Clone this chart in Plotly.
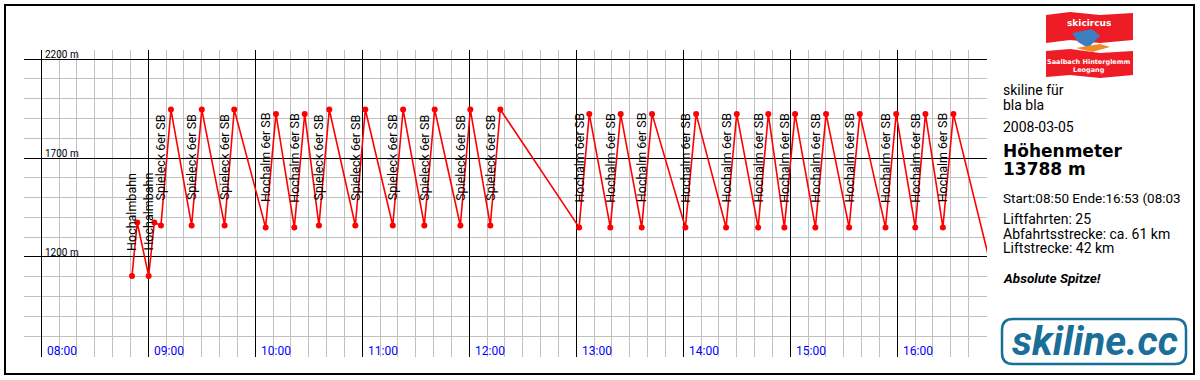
import plotly.graph_objects as go

DAY = "2008-03-05 "

# ---- data ----
times = ["08:50:52", "08:53:48", "09:00:12", "09:03:24", "09:07:06", "09:12:42",
         "09:24:18", "09:30:00", "09:42:48", "09:48:12", "10:05:48", "10:11:36",
         "10:21:54", "10:27:42", "10:35:42", "10:41:30", "10:56:06", "11:01:42",
         "11:17:06", "11:22:54", "11:34:48", "11:40:36", "11:55:00", "12:00:36",
         "12:11:48", "12:17:24", "13:01:36", "13:07:18", "13:19:06", "13:24:54",
         "13:36:42", "13:42:30", "14:01:12", "14:07:12", "14:24:00", "14:30:00",
         "14:42:00", "14:47:42", "14:56:42", "15:02:42", "15:14:06", "15:20:06",
         "15:33:00", "15:39:00", "15:53:24", "15:59:24", "16:10:06", "16:15:48",
         "16:25:36", "16:31:30", "16:53:00"]
altitudes = [1104, 1374, 1104, 1374, 1359, 1945,
             1359, 1945, 1359, 1945, 1349, 1923,
             1349, 1923, 1359, 1945, 1359, 1945,
             1359, 1945, 1359, 1945, 1359, 1945,
             1359, 1945, 1349, 1923, 1349, 1923,
             1349, 1923, 1349, 1923, 1349, 1923,
             1349, 1923, 1349, 1923, 1349, 1923,
             1349, 1923, 1349, 1923, 1349, 1923,
             1349, 1923, 1135]
lift_start_index = list(range(0, 50, 2))
lift_names = (["Hochalmbahn"] * 2 + ["Spieleck 6er SB"] * 3 + ["Hochalm 6er SB"] * 2
              + ["Spieleck 6er SB"] * 6 + ["Hochalm 6er SB"] * 12)
hour_labels = ["08:00", "09:00", "10:00", "11:00", "12:00", "13:00", "14:00", "15:00", "16:00"]
alt_major = [1200, 1700, 2200]
alt_minor = [800, 900, 1000, 1100, 1300, 1400, 1500, 1600, 1800, 1900, 2000, 2100]
info_lines = ["skiline für", "bla bla", "2008-03-05"]
summary_title = ["Höhenmeter", "13788 m"]
stats_lines = ["Liftfahrten: 25", "Abfahrtsstrecke: ca. 61 km", "Liftstrecke: 42 km"]
start_end_line = "Start:08:50 Ende:16:53 (08:03"
slogan = "Absolute Spitze!"

# ---- layout geometry (pixels) ----
W, H = 1200, 380
L, R, T, B = 24, 987, 50, 357


def px(x):
    return (x - L) / (R - L)


def py(y):
    return (B - y) / (B - T)


xs = [DAY + t for t in times]

fig = go.Figure()
fig.add_trace(go.Scatter(
    x=xs, y=altitudes, mode="lines+markers",
    line=dict(color="#ff0000", width=1.6),
    marker=dict(color="#ff0000", size=6),
    hoverinfo="skip", showlegend=False,
))

ann = []
# lift labels (rotated)
for idx, name in zip(lift_start_index, lift_names):
    ann.append(dict(x=xs[idx], y=altitudes[idx], xref="x", yref="y",
                    text=name, textangle=-90, showarrow=False,
                    xanchor="center", yanchor="bottom", yshift=23,
                    font=dict(family="Roboto", size=12.5, color="#000000")))
# hour labels
for h in hour_labels:
    ann.append(dict(x=DAY + h, y=0, xref="x", yref="paper", text=h,
                    showarrow=False, xanchor="left", yanchor="bottom",
                    xshift=4, yshift=-3,
                    font=dict(family="Roboto", size=12, color="#0000ff")))
# altitude labels
for a in alt_major:
    ann.append(dict(x=DAY + "08:00", y=a, xref="x", yref="y", text=f"{a} m",
                    showarrow=False, xanchor="left", yanchor="bottom",
                    xshift=2, yshift=-3,
                    font=dict(family="Roboto", size=10, color="#000000")))

# right panel texts
TX = 1001


def panel_text(text, ycenter, size, bold=False, italic=False, family="Roboto"):
    t = text
    if bold:
        t = f"<b>{t}</b>"
    if italic:
        t = f"<i>{t}</i>"
    ann.append(dict(x=px(TX), y=py(ycenter), xref="paper", yref="paper", text=t,
                    showarrow=False, xanchor="left", yanchor="middle",
                    font=dict(family=family, size=size, color="#000000")))


panel_text(info_lines[0], 90, 14)
panel_text(info_lines[1], 105, 14)
panel_text(info_lines[2], 127, 14)
panel_text(summary_title[0], 151, 17, bold=True, family="DejaVu Sans")
panel_text(summary_title[1], 169, 17, bold=True, family="DejaVu Sans")
panel_text(start_end_line, 198, 13.5)
panel_text(stats_lines[0], 219, 14)
panel_text(stats_lines[1], 233.5, 14)
panel_text(stats_lines[2], 248, 14)
panel_text(slogan, 278, 13.5, bold=True, italic=True)

# skiline.cc logo text
ann.append(dict(x=px(1095), y=py(341), xref="paper", yref="paper",
                text="<b><i>skiline.cc</i></b>", showarrow=False,
                xanchor="center", yanchor="middle",
                font=dict(family="Roboto", size=40, color="#1a6f98")))
# skicircus logo texts
ann.append(dict(x=px(1089), y=py(23), xref="paper", yref="paper",
                text="<b>skicircus</b>", showarrow=False, xanchor="center", yanchor="middle",
                font=dict(family="DejaVu Sans", size=9, color="#ffffff")))
ann.append(dict(x=px(1089), y=py(62), xref="paper", yref="paper",
                text="<b>Saalbach Hinterglemm</b>", showarrow=False, xanchor="center", yanchor="middle",
                font=dict(family="DejaVu Sans", size=6.5, color="#ffffff")))
ann.append(dict(x=px(1089), y=py(70), xref="paper", yref="paper",
                text="<b>Leogang</b>", showarrow=False, xanchor="center", yanchor="middle",
                font=dict(family="DejaVu Sans", size=6.5, color="#ffffff")))


def path_px(points, close=True):
    s = ""
    for i, (x, y) in enumerate(points):
        s += ("M" if i == 0 else "L") + f"{px(x):.5f},{py(y):.5f} "
    if close:
        s += "Z"
    return s


def rrect_px(x0, y0, x1, y1, r):
    P = lambda x, y: f"{px(x):.5f},{py(y):.5f}"
    return (f"M{P(x0 + r, y0)} L{P(x1 - r, y0)} Q{P(x1, y0)} {P(x1, y0 + r)} "
            f"L{P(x1, y1 - r)} Q{P(x1, y1)} {P(x1 - r, y1)} L{P(x0 + r, y1)} "
            f"Q{P(x0, y1)} {P(x0, y1 - r)} L{P(x0, y0 + r)} Q{P(x0, y0)} {P(x0 + r, y0)} Z")


shapes = []
# outer frame
shapes.append(dict(type="rect", xref="paper", yref="paper",
                   x0=px(5), x1=px(1194), y0=py(5), y1=py(374),
                   line=dict(color="#000000", width=2), fillcolor="rgba(0,0,0,0)", layer="above"))
# skiline.cc rounded box
shapes.append(dict(type="path", xref="paper", yref="paper",
                   path=rrect_px(1002, 319, 1186, 364, 11),
                   line=dict(color="#1a6f98", width=2.5)))
# skicircus flag bands
red = "#ee1c25"
shapes.append(dict(type="path", xref="paper", yref="paper",
                   path=path_px([(1046, 15), (1070, 12), (1100, 15), (1133, 13), (1133, 40),
                                 (1100, 43), (1070, 40), (1046, 43)]),
                   line=dict(width=0), fillcolor=red))
shapes.append(dict(type="path", xref="paper", yref="paper",
                   path=path_px([(1046, 51), (1070, 49), (1100, 53), (1133, 51), (1133, 75),
                                 (1100, 78), (1070, 75), (1046, 77)]),
                   line=dict(width=0), fillcolor=red))
shapes.append(dict(type="path", xref="paper", yref="paper",
                   path=path_px([(1072, 33), (1092, 29), (1100, 36), (1088, 48), (1078, 42)]),
                   line=dict(width=0), fillcolor="#3c7fc0"))
shapes.append(dict(type="path", xref="paper", yref="paper",
                   path=path_px([(1076, 48), (1100, 44), (1110, 47), (1092, 52)]),
                   line=dict(width=0), fillcolor="#f08a24"))

fig.update_layout(
    width=W, height=H,
    margin=dict(l=L, r=W - R, t=T, b=H - B, pad=0),
    paper_bgcolor="#ffffff", plot_bgcolor="#ffffff",
    xaxis=dict(type="date", range=[DAY + "07:50:18", DAY + "16:50:20"],
               tick0=DAY + "08:00", dtick=3600000,
               showgrid=True, gridcolor="#000000", gridwidth=1,
               minor=dict(dtick=600000, tick0=DAY + "08:00", showgrid=True,
                          gridcolor="#c0c0c0", gridwidth=1),
               showticklabels=False, ticks="", zeroline=False, showline=False,
               fixedrange=True),
    yaxis=dict(range=[694, 2246], tickmode="array", tickvals=alt_major,
               showgrid=True, gridcolor="#000000", gridwidth=1,
               minor=dict(tickmode="array", tickvals=alt_minor, showgrid=True,
                          gridcolor="#c0c0c0", gridwidth=1),
               showticklabels=False, ticks="", zeroline=False, showline=False,
               fixedrange=True),
    annotations=ann,
    shapes=shapes,
)

fig.write_html("out.html")
